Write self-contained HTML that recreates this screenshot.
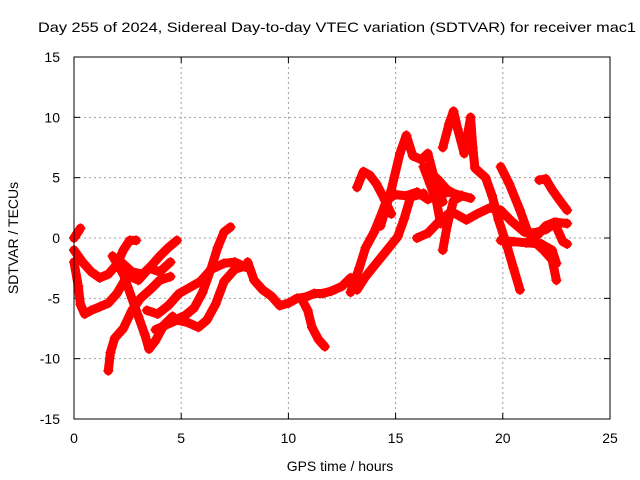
<!DOCTYPE html>
<html><head><meta charset="utf-8"><style>
body{margin:0;background:#fff;}
svg{display:block;font-family:"Liberation Sans",sans-serif;}
</style></head><body>
<svg id="chart" width="640" height="480" viewBox="0 0 640 480">
<text x="337" y="32" font-size="14" text-anchor="middle" textLength="598" lengthAdjust="spacingAndGlyphs">Day 255 of 2024, Sidereal Day-to-day VTEC variation (SDTVAR) for receiver mac1</text>
<text x="340" y="471" font-size="14" text-anchor="middle">GPS time / hours</text>
<text x="0" y="0" font-size="14" text-anchor="middle" transform="translate(18,238) rotate(-90)">SDTVAR / TECUs</text>
<g id="grid"></g><g id="ticks"></g><g id="marks"></g>
<rect x="74" y="57" width="536" height="362" fill="none" stroke="#000" stroke-width="1"/>
</svg>
<script>
const xTicks=[0,5,10,15,20,25];
const yTicks=[-15,-10,-5,0,5,10,15];
const track1=[[0,0],[0.15,0.4],[0.3,0.8]];
const track2=[[0,-1],[0.4,-2],[0.8,-2.8],[1.2,-3.3],[1.6,-3],[2,-2.2],[2.3,-1],[2.6,-0.2],[2.9,-0.2]];
const track3=[[0,-2],[0.2,-4],[0.3,-5.5],[0.5,-6.3],[0.8,-6],[1.2,-5.7],[1.6,-5.4],[2,-4.6],[2.5,-3.1],[3,-3.5],[3.5,-2.5],[4,-2.8],[4.5,-2]];
const track4=[[1.6,-11],[1.7,-9.5],[1.9,-8.3],[2.3,-7.5],[2.7,-6],[3.1,-5],[3.6,-4.2],[4,-3.5],[4.5,-3.2]];
const track5=[[1.8,-1.5],[2.3,-3],[2.7,-5],[3,-6.5],[3.3,-8],[3.5,-9.2],[3.8,-8.5],[4.2,-7.2],[4.6,-6.5]];
const track6=[[2.2,-2],[2.7,-2.8],[3.2,-3],[3.6,-2.3],[4,-1.5],[4.4,-0.8],[4.8,-0.2]];
const track7=[[4.7,-6.8],[5.2,-6.4],[5.6,-5.8],[6,-4.5],[6.4,-2.5],[6.7,-0.8],[7,0.5],[7.3,0.9]];
const track8=[[3.8,-7.6],[4.3,-7.2],[4.8,-6.8],[5.3,-7],[5.8,-7.4],[6.2,-6.8],[6.6,-5.5],[7,-3.6],[7.5,-2.6],[8,-2.3]];
const track9=[[3.4,-6],[3.9,-6.3],[4.4,-5.6],[4.9,-4.6],[5.4,-4.1],[5.9,-3.6],[6.4,-2.6],[7,-2.1],[7.5,-2],[8,-2.4]];
const track10=[[8.1,-2],[8.4,-3.5],[8.8,-4.3],[9.2,-4.8],[9.6,-5.6],[10,-5.4],[10.4,-5],[10.8,-4.9],[11.2,-4.6],[11.6,-4.6],[12,-4.4],[12.5,-4],[12.9,-3.3]];
const track11=[[10.6,-5],[10.9,-6],[11.1,-7.4],[11.4,-8.4],[11.7,-9]];
const track12=[[12.9,-4.5],[13.3,-2.5],[13.6,-0.8],[14,0.5],[14.3,1.8],[14.6,3.2],[15,3.6],[15.5,3.5],[16,3.8],[16.5,3.2],[17,3.6],[17.5,3.8]];
const track13=[[13.2,-4.3],[13.6,-3.2],[14.1,-2.1],[14.6,-1],[15.1,0.1],[15.4,1.6],[15.7,3.4],[16.3,3.7]];
const track14=[[13.2,4.2],[13.5,5.5],[13.8,5.2],[14.1,4.5],[14.4,3.5],[14.8,2]];
const track15=[[14.3,1],[14.8,4],[15.2,7],[15.5,8.5],[15.8,6.8],[16.2,6.5],[16.5,7],[16.8,5],[17.2,3]];
const track16=[[16,0],[16.5,0.4],[17.1,1.5],[17.6,2.2],[18.3,1.5],[18.8,2],[19.4,2.5],[19.9,2.3],[20.4,1.4],[21,0.5],[21.4,0.4],[22,0.7],[22.5,1.3],[23,1.2]];
const track17=[[17.2,-1],[17.4,1],[17.7,3.1],[18.1,3.5],[18.5,3.3]];
const track18=[[16.3,5.9],[16.6,4.5],[16.9,3.1],[17.1,1.2]];
const track19=[[16.5,5.6],[17,4.8],[17.4,4],[17.7,3.7],[18.1,3.5]];
const track20=[[17.2,7.5],[17.5,9.5],[17.7,10.5],[17.9,9],[18.2,7],[18.5,10],[18.6,7.5],[18.7,5.8],[19.2,5],[19.5,3.5],[19.8,1.5],[20.2,-0.7],[20.5,-2.5],[20.8,-4.3]];
const track21=[[19.9,5.9],[20.3,4.5],[20.8,2.3],[21.1,0.8],[21.4,-0.2],[21.9,-1],[22.3,-1.8],[22.5,-3.5]];
const track22=[[19.9,-0.2],[20.5,-0.3],[21.1,-0.4],[21.8,-0.5],[22.3,-1],[22.5,-2.1]];
const track23=[[21.7,4.8],[22,4.9],[22.3,4],[22.7,3],[23,2.3]];
const track24=[[21.5,0],[22,1],[22.4,1.3],[22.8,-0.3],[23,-0.5]];
const tracks=[track1,track2,track3,track4,track5,track6,track7,track8,track9,track10,track11,track12,track13,track14,track15,track16,track17,track18,track19,track20,track21,track22,track23,track24];

const NS="http://www.w3.org/2000/svg";
const X0=74,X1=610,Y0=419,Y1=57;
function xs(t){return X0+(t-0)/25*(X1-X0);}
function ys(v){return Y0-(v+15)/30*(Y0-Y1);}
function mk(tag,attrs,parent){const e=document.createElementNS(NS,tag);for(const k in attrs)e.setAttribute(k,attrs[k]);parent.appendChild(e);return e;}
const grid=document.getElementById('grid'),ticks=document.getElementById('ticks'),marks=document.getElementById('marks');
xTicks.forEach(t=>{
  const x=xs(t);
  if(t>0&&t<25){const g=mk('line',{x1:x,x2:x,y1:Y0,y2:Y1,stroke:'#a0a0a0','stroke-dasharray':'2,3'},grid);
  
  }
  mk('line',{x1:x,x2:x,y1:Y0,y2:Y0-6,stroke:'#000'},ticks);
  mk('line',{x1:x,x2:x,y1:Y1,y2:Y1+6,stroke:'#000'},ticks);
  const l=mk('text',{x:x,y:Y0+24,'font-size':14,'text-anchor':'middle'},ticks);l.textContent=t;
  
  
});
yTicks.forEach(v=>{
  const y=ys(v);
  if(v>-15&&v<15){const g=mk('line',{x1:X0,x2:X1,y1:y,y2:y,stroke:'#a0a0a0','stroke-dasharray':'2,3'},grid);
  
  }
  mk('line',{x1:X0,x2:X0+6,y1:y,y2:y,stroke:'#000'},ticks);
  mk('line',{x1:X1,x2:X1-6,y1:y,y2:y,stroke:'#000'},ticks);
  const l=mk('text',{x:X0-14,y:y+5,'font-size':14,'text-anchor':'end'},ticks);l.textContent=v;
  
  
});
tracks.forEach((tr,i)=>{
  const pts=tr.map(p=>xs(p[0]).toFixed(1)+','+ys(p[1]).toFixed(1)).join(' ');
  const pl=mk('polyline',{points:pts,fill:'none',stroke:'#ff0000','stroke-width':9,'stroke-linejoin':'round','stroke-linecap':'round'},marks);
  
  
  tr.forEach(p=>{
    const x=xs(p[0]),y=ys(p[1]);
    const m=mk('path',{d:`M${x-5},${y}H${x+5}M${x},${y-5}V${y+5}`,stroke:'#ff0000','stroke-width':1.5},marks);
    
    
  });
});
</script>
</body></html>
